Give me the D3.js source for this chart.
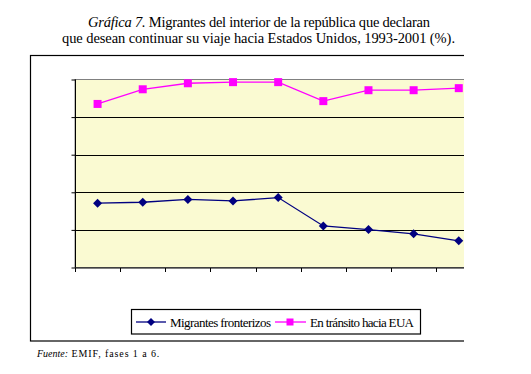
<!DOCTYPE html>
<html>
<head>
<meta charset="utf-8">
<script src="https://cdn.jsdelivr.net/npm/d3@7"></script>
<style>
  body { margin: 0; background: #fff; }
  text { font-family: "Liberation Serif", "DejaVu Serif", serif; }
</style>
</head>
<body>
<div id="chart"></div>
<script>
// periods (axis labels are not shown in the original)
var periods = ["1993-1994", "1994-1995", "1995-1996", "1996-1997", "1997-1998",
               "1998-1999", "1999-2000", "2000-2001a", "2000-2001b"];
var fronterizos = [34.2, 34.7, 36.2, 35.4, 37.2, 22.1, 20.2, 17.9, 14.2];
var transito = [87.0, 94.8, 98.0, 98.6, 98.6, 88.5, 94.3, 94.3, 95.4];
var yTicks = [0, 20, 40, 60, 80, 100];

var W = 531, H = 374;

var svg = d3.select("#chart").append("svg")
    .attr("width", W)
    .attr("height", H);

// title
var title = svg.append("text")
    .attr("x", 88)
    .attr("y", 27)
    .attr("textLength", 342)
    .style("font-size", "14.5px");
title.append("tspan").style("font-style", "italic").text("Gráfica 7.");
title.append("tspan").text(" Migrantes del interior de la república que declaran");

svg.append("text")
    .attr("x", 62)
    .attr("y", 43)
    .attr("textLength", 393)
    .style("font-size", "14.5px")
    .text("que desean continuar su viaje hacia Estados Unidos, 1993-2001 (%).");

// everything in the chart is clipped at the right edge (the picture is cropped)
svg.append("clipPath").attr("id", "crop")
    .append("rect").attr("x", 0).attr("y", 0).attr("width", 464).attr("height", H);

var chart = svg.append("g").attr("clip-path", "url(#crop)");

// outer frame
chart.append("rect")
    .attr("x", 30.5)
    .attr("y", 55.5)
    .attr("width", 480)
    .attr("height", 285.5)
    .attr("fill", "none")
    .attr("stroke", "#000")
    .attr("stroke-width", 1.2);

var plotLeft = 75, plotTop = 79.5, plotBottom = 267.5;
var step = 45.15;

var x = d3.scaleBand()
    .domain(periods)
    .range([plotLeft, plotLeft + step * periods.length]);

var y = d3.scaleLinear()
    .domain([0, 100])
    .range([plotBottom, plotTop]);

// plot area
chart.append("rect")
    .attr("x", plotLeft)
    .attr("y", plotTop)
    .attr("width", step * periods.length)
    .attr("height", plotBottom - plotTop)
    .attr("fill", "#FAFAD2")
    .attr("stroke", "#808080")
    .attr("stroke-width", 1);

// gridlines
chart.selectAll(".grid")
    .data(yTicks.filter(function (d) { return d > 0 && d < 100; }))
    .enter().append("line")
    .attr("class", "grid")
    .attr("x1", plotLeft)
    .attr("x2", plotLeft + step * periods.length)
    .attr("y1", function (d) { return Math.round(y(d)) + 0.5; })
    .attr("y2", function (d) { return Math.round(y(d)) + 0.5; })
    .attr("stroke", "#000")
    .attr("stroke-width", 1);

// y axis (no labels)
var yAxis = chart.append("g")
    .attr("transform", "translate(" + (plotLeft + 0.5) + ",0)")
    .call(d3.axisLeft(y).tickValues(yTicks).tickSize(4).tickFormat(""));
yAxis.select(".domain").attr("stroke", "#000").attr("d", "M0," + y(100) + "V" + y(0));

// x axis: ticks on band boundaries, no labels
var xAxis = chart.append("g")
    .attr("transform", "translate(0," + (plotBottom + 0.5) + ")");
xAxis.append("line")
    .attr("x1", plotLeft)
    .attr("x2", plotLeft + step * periods.length)
    .attr("stroke", "#000");
xAxis.selectAll(".xt")
    .data(periods)
    .enter().append("line")
    .attr("class", "xt")
    .attr("x1", function (d) { return Math.round(x(d)) + 0.5; })
    .attr("x2", function (d) { return Math.round(x(d)) + 0.5; })
    .attr("y1", 0)
    .attr("y2", 4)
    .attr("stroke", "#000");

var cx = function (d, i) { return x(periods[i]) + x.bandwidth() / 2; };

// Migrantes fronterizos
var blueLine = d3.line()
    .x(cx)
    .y(function (d) { return y(d); });

chart.append("path")
    .datum(fronterizos)
    .attr("d", blueLine)
    .attr("fill", "none")
    .attr("stroke", "#000080")
    .attr("stroke-width", 1.3);

chart.selectAll(".diamond")
    .data(fronterizos)
    .enter().append("path")
    .attr("class", "diamond")
    .attr("transform", function (d, i) { return "translate(" + cx(d, i) + "," + y(d) + ")"; })
    .attr("d", "M0,-4.5L4.5,0L0,4.5L-4.5,0Z")
    .attr("fill", "#000080");

// En transito hacia EUA
var pinkLine = d3.line()
    .x(cx)
    .y(function (d) { return y(d); });

chart.append("path")
    .datum(transito)
    .attr("d", pinkLine)
    .attr("fill", "none")
    .attr("stroke", "#FF00FF")
    .attr("stroke-width", 1.3);

chart.selectAll(".square")
    .data(transito)
    .enter().append("rect")
    .attr("class", "square")
    .attr("x", function (d, i) { return cx(d, i) - 4; })
    .attr("y", function (d) { return y(d) - 4; })
    .attr("width", 8)
    .attr("height", 8)
    .attr("fill", "#FF00FF");

// legend
var legend = chart.append("g");
legend.append("rect")
    .attr("x", 131.5)
    .attr("y", 309.5)
    .attr("width", 289)
    .attr("height", 24.5)
    .attr("fill", "#fff")
    .attr("stroke", "#000")
    .attr("stroke-width", 1.2);

legend.append("line")
    .attr("x1", 136).attr("x2", 166)
    .attr("y1", 322).attr("y2", 322)
    .attr("stroke", "#000080").attr("stroke-width", 1.3);
legend.append("path")
    .attr("transform", "translate(151,322)")
    .attr("d", "M0,-4L4,0L0,4L-4,0Z")
    .attr("fill", "#000080");
legend.append("text")
    .attr("x", 170)
    .attr("y", 326.5)
    .style("font-size", "13px")
    .attr("textLength", 101)
    .text("Migrantes fronterizos");

legend.append("line")
    .attr("x1", 275).attr("x2", 306)
    .attr("y1", 322).attr("y2", 322)
    .attr("stroke", "#FF00FF").attr("stroke-width", 1.3);
legend.append("rect")
    .attr("x", 286.5).attr("y", 318.5)
    .attr("width", 7).attr("height", 7)
    .attr("fill", "#FF00FF");
legend.append("text")
    .attr("x", 310)
    .attr("y", 326.5)
    .style("font-size", "13px")
    .attr("textLength", 104)
    .text("En tránsito hacia EUA");

// source note
var note = svg.append("text")
    .attr("x", 37)
    .attr("y", 356.5)
    .style("font-size", "10px");
note.append("tspan").style("font-style", "italic").text("Fuente:");
note.append("tspan").style("letter-spacing", "0.9px").text(" EMIF, fases 1 a 6.");
</script>
</body>
</html>
